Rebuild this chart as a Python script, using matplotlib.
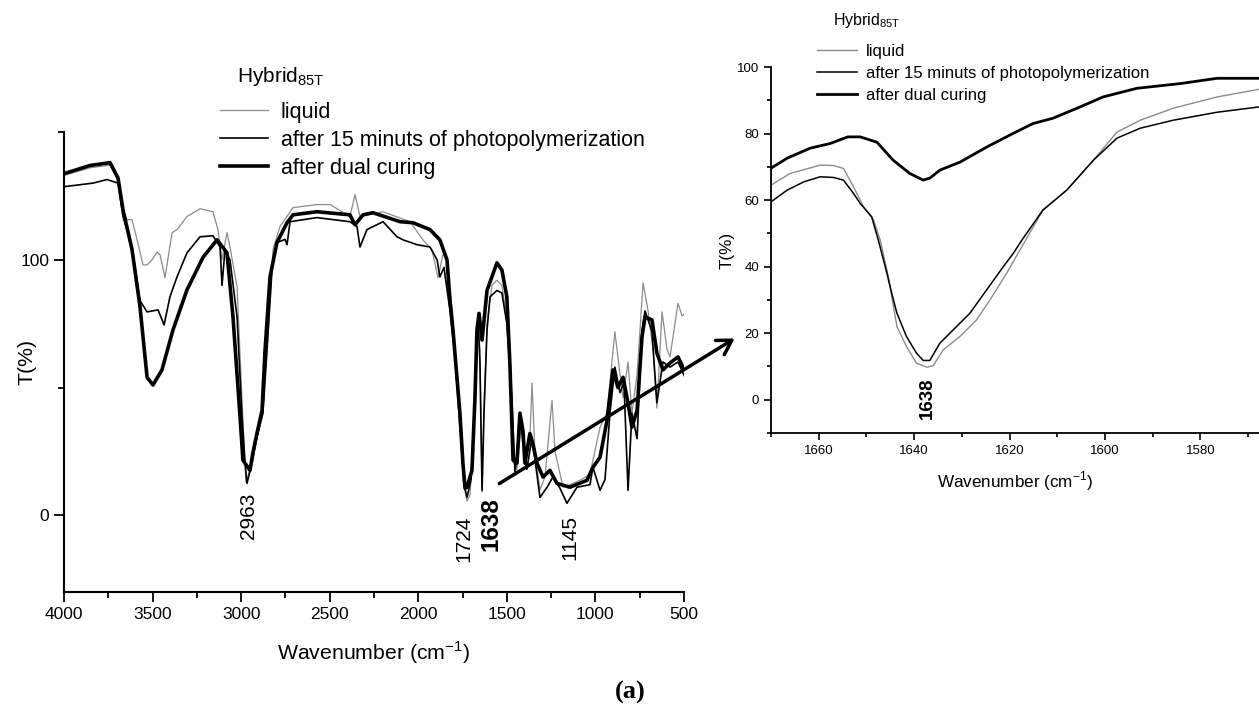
import matplotlib
matplotlib.use("Agg")
import matplotlib.pyplot as plt
from matplotlib.lines import Line2D
from matplotlib.patches import FancyArrowPatch
from matplotlib.ticker import MultipleLocator

plt.rcParams['font.family'] = ['Liberation Sans', 'DejaVu Sans']

# ---------------- main spectrum (left) ----------------
dual_wn = [4000, 3853, 3740, 3695, 3667, 3616, 3571, 3531, 3498, 3447, 3385, 3306, 3215, 3136, 3080,
           3046, 3006, 2990, 2978, 2950, 2933, 2911, 2882, 2865, 2837, 2798, 2741, 2707, 2572, 2386,
           2357, 2312, 2256, 2103, 2030, 1934, 1878, 1838, 1821, 1804, 1765, 1748, 1736, 1725, 1697,
           1680, 1669, 1657, 1640, 1612, 1556, 1528, 1500, 1483, 1465, 1443, 1426, 1409, 1398, 1370,
           1353, 1330, 1296, 1257, 1217, 1144, 1048, 1014, 974, 935, 901, 873, 844, 816, 794,
           765, 737, 720, 681, 653, 619, 579, 534, 506]
dual_T = [133.7, 136.9, 138.0, 132.0, 119.6, 104.0, 81.6, 54.0, 51.0, 56.9, 72.5, 88.2, 101.0, 107.8, 102.7,
          77.6, 38.4, 21.6, 20.4, 17.6, 24.7, 32.0, 41.0, 64.7, 93.3, 106.7, 114.5, 117.6, 118.8, 117.6,
          113.7, 117.6, 118.4, 114.9, 114.5, 111.8, 107.8, 100.0, 84.3, 72.5, 40.0, 20.4, 10.6, 11.0, 17.6,
          46.0, 72.5, 79.0, 68.6, 88.0, 98.8, 96.0, 85.5, 59.6, 21.6, 20.4, 40.0, 33.0, 20.4, 32.0,
          28.0, 20.4, 15.0, 17.6, 12.5, 11.0, 13.7, 18.8, 22.7, 37.0, 56.9, 50.0, 54.0, 44.0, 34.5,
          41.0, 70.0, 77.6, 76.5, 63.5, 56.9, 59.6, 62.0, 58.0]

photo_wn = [4000, 3836, 3757, 3695, 3667, 3616, 3571, 3531, 3469, 3435, 3402, 3362, 3306, 3232, 3159,
            3119, 3108, 3091, 3063, 3023, 2995, 2978, 2967, 2939, 2911, 2877, 2854, 2826, 2798, 2752,
            2741, 2724, 2572, 2386, 2346, 2329, 2290, 2199, 2120, 2086, 2007, 1934, 1894, 1878, 1855,
            1821, 1793, 1765, 1742, 1725, 1702, 1680, 1663, 1652, 1640, 1629, 1612, 1595, 1556, 1528,
            1500, 1472, 1454, 1426, 1409, 1387, 1358, 1313, 1273, 1240, 1200, 1161, 1104, 1031, 1014,
            974, 946, 918, 890, 861, 839, 816, 794, 765, 737, 720, 681, 653, 619, 579,
            534, 494]
photo_T = [128.6, 130.0, 131.4, 130.0, 117.0, 105.0, 84.0, 79.6, 80.4, 74.5, 85.5, 93.3, 102.7, 109.0, 109.4,
           105.0, 90.0, 104.0, 100.0, 77.6, 38.4, 20.4, 12.5, 20.4, 30.6, 40.0, 64.7, 96.0, 106.7, 108.0,
           105.9, 114.9, 116.5, 114.9, 113.0, 105.0, 111.8, 114.9, 109.0, 107.8, 105.9, 105.0, 100.0, 93.3, 97.0,
           80.0, 62.0, 35.0, 12.0, 7.0, 14.0, 46.0, 77.6, 60.0, 9.8, 40.0, 72.5, 85.5, 88.0, 87.0,
           75.0, 46.0, 16.5, 38.0, 30.0, 18.0, 30.6, 7.0, 11.0, 15.0, 10.6, 4.7, 11.0, 12.0, 18.8,
           9.8, 14.0, 40.0, 58.0, 48.0, 52.0, 9.8, 40.0, 30.0, 72.0, 80.0, 72.0, 44.0, 60.0, 58.0,
           60.0, 54.0]

liquid_wn = [4000, 3853, 3740, 3695, 3661, 3644, 3616, 3588, 3554, 3531, 3503, 3475, 3458, 3430, 3390,
             3362, 3306, 3232, 3159, 3131, 3108, 3080, 3063, 3023, 2995, 2973, 2950, 2911, 2877, 2854,
             2820, 2781, 2707, 2572, 2498, 2386, 2357, 2329, 2199, 2047, 1974, 1923, 1889, 1861, 1838,
             1810, 1782, 1759, 1736, 1725, 1708, 1686, 1663, 1652, 1640, 1629, 1612, 1584, 1556, 1528,
             1494, 1465, 1443, 1420, 1398, 1370, 1358, 1342, 1313, 1285, 1245, 1228, 1183, 1144, 1087,
             1031, 974, 935, 907, 890, 861, 844, 816, 794, 765, 731, 703, 675, 653, 624,
             596, 579, 534, 511, 494]
liquid_T = [133.0, 136.0, 137.0, 131.0, 118.0, 115.7, 115.7, 108.0, 98.0, 98.0, 100.0, 103.0, 102.0, 93.0, 110.6,
            111.8, 116.9, 120.0, 118.8, 111.8, 100.0, 110.6, 105.0, 89.4, 45.0, 13.0, 18.0, 30.0, 42.0, 64.0,
            104.0, 113.0, 120.4, 121.6, 121.6, 116.9, 125.5, 116.9, 118.8, 114.9, 107.8, 104.0, 93.0, 102.0, 101.0,
            80.0, 55.0, 30.0, 10.0, 5.6, 8.0, 35.0, 75.0, 65.0, 9.0, 42.0, 75.0, 90.0, 92.0, 90.0,
            75.0, 22.0, 18.0, 35.0, 22.0, 30.0, 51.8, 25.0, 10.0, 15.0, 45.0, 25.0, 11.0, 12.0, 13.7,
            16.0, 34.5, 40.0, 60.0, 71.8, 55.0, 46.0, 60.0, 40.0, 55.0, 91.0, 80.0, 65.0, 42.0, 79.6,
            65.0, 62.0, 83.0, 78.0, 79.0]

# ---------------- zoomed region (right) ----------------
z_dual_wn = [1670.0, 1666.6, 1661.8, 1657.6, 1653.9, 1651.3, 1647.8, 1644.4, 1640.9, 1638.1, 1636.7, 1634.6,
             1630.4, 1624.7, 1619.3, 1615.1, 1610.9, 1605.2, 1600.4, 1593.3, 1584.3, 1576.5, 1571.3, 1567.7]
z_dual_T = [69.6, 72.6, 75.6, 77.0, 79.0, 79.0, 77.4, 72.0, 68.0, 66.0, 66.6, 69.0,
            71.4, 76.0, 80.0, 83.0, 84.6, 88.0, 91.0, 93.6, 95.0, 96.6, 96.6, 96.6]

z_photo_wn = [1670.0, 1666.6, 1663.1, 1659.7, 1656.9, 1654.8, 1652.7, 1651.3, 1648.9, 1647.5, 1645.7, 1644.7,
              1643.6, 1641.6, 1639.5, 1638.1, 1636.7, 1634.6, 1631.8, 1628.3, 1624.8, 1621.3, 1619.2, 1617.4,
              1613.0, 1608.0, 1602.4, 1597.5, 1592.6, 1585.7, 1576.5, 1567.7]
z_photo_T = [59.5, 63.0, 65.5, 67.0, 66.8, 66.0, 62.0, 59.0, 55.0, 48.0, 38.0, 32.0,
             26.0, 19.0, 14.0, 11.8, 11.8, 17.0, 21.0, 26.0, 33.0, 40.0, 44.0, 48.0,
             57.0, 63.0, 72.0, 78.6, 81.6, 84.0, 86.4, 88.0]

z_liquid_wn = [1670.0, 1666.0, 1659.7, 1656.9, 1654.8, 1652.7, 1650.6, 1648.5, 1647.1, 1645.4, 1643.6, 1641.6,
               1639.5, 1637.4, 1636.0, 1633.9, 1630.4, 1626.9, 1624.1, 1620.6, 1617.4, 1613.0, 1608.0, 1602.4,
               1597.5, 1592.6, 1585.7, 1576.5, 1567.7]
z_liquid_T = [64.5, 68.0, 70.5, 70.4, 69.5, 64.0, 58.0, 54.0, 48.0, 37.0, 22.0, 16.0,
              11.0, 9.8, 10.2, 15.0, 19.0, 24.0, 30.0, 38.0, 46.0, 57.0, 63.0, 72.0,
              80.4, 84.0, 87.6, 91.0, 93.3]

series_labels = ['liquid', 'after 15 minuts of photopolymerization', 'after dual curing']
legend_title = 'Hybrid$_{\\mathregular{85T}}$'
xlabel_text = 'Wavenumber (cm$^{\\mathregular{-1}}$)'

W, H = 1259, 708
fig = plt.figure(figsize=(W / 100, H / 100), dpi=100)

def rect(x0, y0, x1, y1):
    return [x0 / W, 1 - y1 / H, (x1 - x0) / W, (y1 - y0) / H]

gray = '#8c8c8c'

# ---- left axes ----
ax = fig.add_axes(rect(64, 132, 684, 592))
ax.plot(liquid_wn, liquid_T, color=gray, lw=0.9)
ax.plot(photo_wn, photo_T, color='black', lw=1.2)
ax.plot(dual_wn, dual_T, color='black', lw=2.6)
ax.set_xlim(4000, 500)
ax.set_ylim(-30, 150)
ax.spines['top'].set_visible(False)
ax.spines['right'].set_visible(False)
for s in ('left', 'bottom'):
    ax.spines[s].set_linewidth(1.5)
ax.xaxis.set_major_locator(MultipleLocator(500))
ax.xaxis.set_minor_locator(MultipleLocator(250))
ax.yaxis.set_major_locator(MultipleLocator(100))
ax.yaxis.set_minor_locator(MultipleLocator(50))
ax.tick_params(which='major', direction='out', length=7, width=1.3, labelsize=12.5)
ax.tick_params(which='minor', direction='out', length=4, width=1.3)
ax.set_xlabel(xlabel_text, fontsize=15.3, labelpad=13)
ax.set_ylabel('T(%)', fontsize=15.3)
ax.yaxis.set_label_coords(-0.045, 0.5)

ax.text(2961, 0, '2963', rotation=90, ha='center', va='center', fontsize=15)
ax.text(1742, -9, '1724', rotation=90, ha='center', va='center', fontsize=15)
ax.text(1590, -3.5, '1638', rotation=90, ha='center', va='center', fontsize=17.5, fontweight='bold')
ax.text(1144, -8.6, '1145', rotation=90, ha='center', va='center', fontsize=15)

handles = [Line2D([], [], color=gray, lw=0.9),
           Line2D([], [], color='black', lw=1.2),
           Line2D([], [], color='black', lw=2.6)]
fig.legend(handles, series_labels, loc='upper left',
           bbox_to_anchor=(220 / W, 1 - 102 / H), frameon=False, borderpad=0,
           fontsize=15.5, handlelength=2.23, handletextpad=0.6,
           labelspacing=0.32, borderaxespad=0)
fig.text(237 / W, 1 - 77 / H, legend_title, ha='left', va='center', fontsize=15)

# ---- right axes ----
ax2 = fig.add_axes(rect(771, 67, 1259, 433))
ax2.plot(z_liquid_wn, z_liquid_T, color=gray, lw=1.0)
ax2.plot(z_photo_wn, z_photo_T, color='black', lw=1.1)
ax2.plot(z_dual_wn, z_dual_T, color='black', lw=2.0)
ax2.set_xlim(1670, 1567.7)
ax2.set_ylim(-10, 100)
ax2.spines['top'].set_visible(False)
ax2.spines['right'].set_visible(False)
for s in ('left', 'bottom'):
    ax2.spines[s].set_linewidth(1.3)
ax2.xaxis.set_major_locator(MultipleLocator(20))
ax2.xaxis.set_minor_locator(MultipleLocator(10))
ax2.yaxis.set_major_locator(MultipleLocator(20))
ax2.yaxis.set_minor_locator(MultipleLocator(10))
ax2.tick_params(which='major', direction='out', length=5, width=1.2, labelsize=9.5)
ax2.tick_params(which='minor', direction='out', length=3, width=1.2)
ax2.set_xlabel(xlabel_text, fontsize=12.3, labelpad=9)
ax2.set_ylabel('T(%)', fontsize=12.3)
ax2.yaxis.set_label_coords(-0.074, 0.5)
ax2.text(1637.3, 0.6, '1638', rotation=90, ha='center', va='center', fontsize=13.5, fontweight='bold')

handles2 = [Line2D([], [], color=gray, lw=1.0),
            Line2D([], [], color='black', lw=1.1),
            Line2D([], [], color='black', lw=2.0)]
fig.legend(handles2, series_labels, loc='upper left',
           bbox_to_anchor=(817 / W, 1 - 44 / H), frameon=False, borderpad=0,
           fontsize=12, handlelength=2.4, handletextpad=0.54,
           labelspacing=0.42, borderaxespad=0)
fig.text(833 / W, 1 - 20 / H, legend_title, ha='left', va='center', fontsize=11.5)

# ---- arrow linking the panels ----
fig.add_artist(FancyArrowPatch(
    (497 / W, 1 - 485 / H), (737 / W, 1 - 337 / H), transform=fig.transFigure,
    arrowstyle='->,head_length=10,head_width=6', lw=2.5, color='black', mutation_scale=1))

fig.text(630 / W, 1 - 692 / H, '(a)', ha='center', va='center', fontsize=19,
         fontweight='bold', family=['Liberation Serif', 'DejaVu Serif'])

fig.savefig('out.png', dpi=100)
